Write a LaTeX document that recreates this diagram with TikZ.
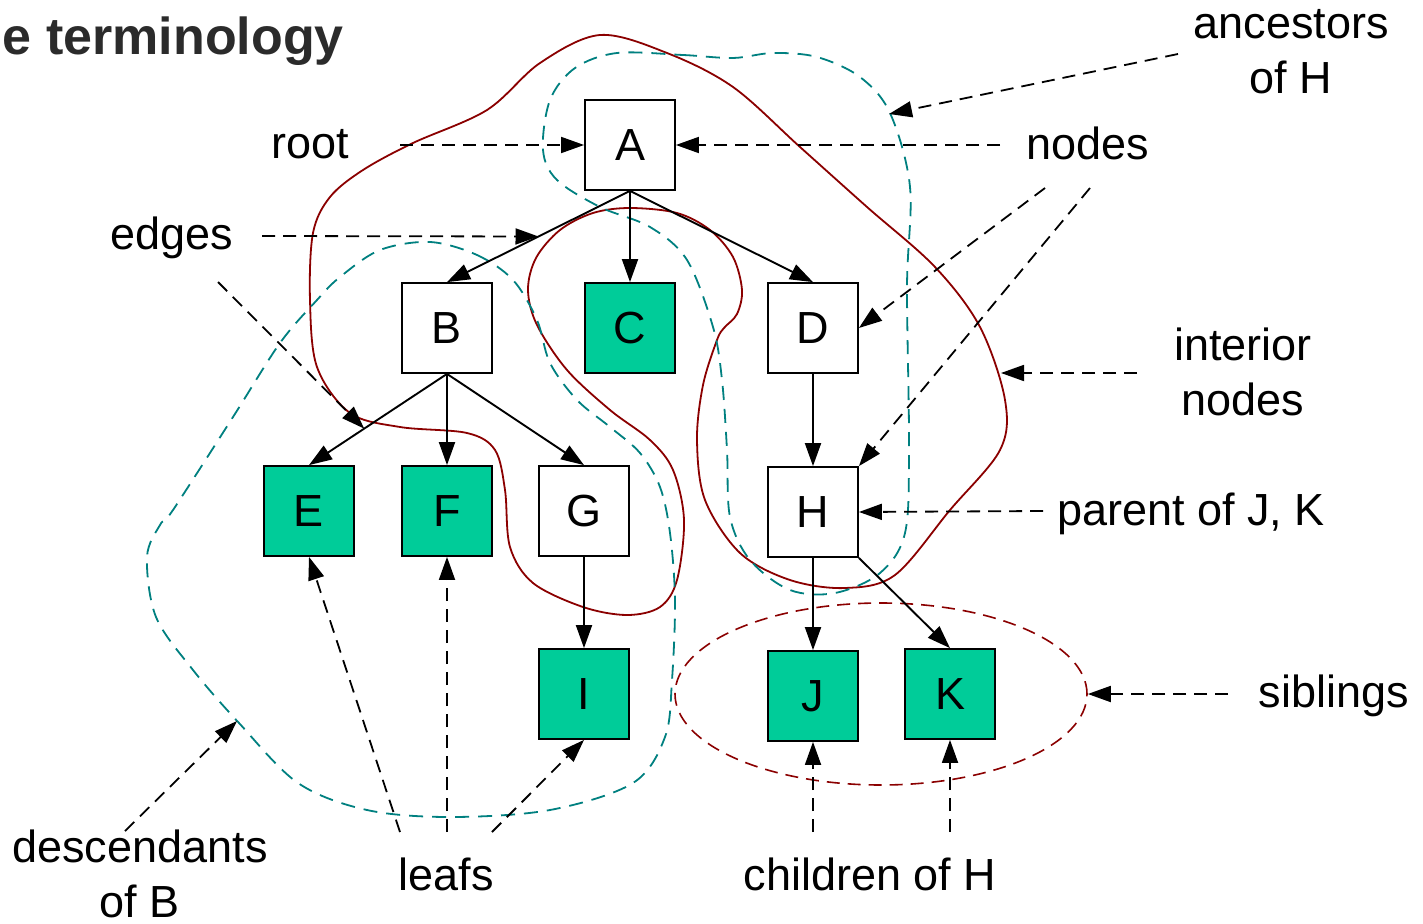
\documentclass[tikz,border=0pt]{standalone}
\usepackage{fontspec}
\setmainfont{Liberation Sans}
\usetikzlibrary{arrows.meta,calc,shapes.geometric}
\definecolor{leafgreen}{HTML}{00CC99}
\definecolor{dred}{HTML}{8B0000}
\definecolor{tealc}{HTML}{008080}
\definecolor{titlegray}{HTML}{2B2B2B}
\newcommand\labfont{\fontsize{45}{55}\selectfont}
\newcommand\ttlfont{\fontsize{52}{60}\selectfont\bfseries}
\tikzset{
  box/.style={draw=black, line width=1.8pt, fill=white, minimum size=90pt, inner sep=0pt, font=\labfont},
  leafbox/.style={box, fill=leafgreen},
  edge/.style={line width=1.9pt, -{Triangle[length=23pt,width=16pt]}},
  note/.style={line width=1.8pt, dash pattern=on 13pt off 8pt, -{Triangle[length=23pt,width=16pt]}},
  lbl/.style={font=\labfont, inner sep=0pt, anchor=base, align=center},
  redline/.style={draw=dred, line width=1.8pt},
  tealline/.style={draw=tealc, line width=1.8pt, dash pattern=on 14pt off 9pt},
}
\begin{document}
\begin{tikzpicture}[x=1pt,y=-1pt]
\fill[white] (0,0) rectangle (1423,923);
\useasboundingbox (0,0) rectangle (1423,923);

% title
\node[font=\ttlfont, text=titlegray, anchor=base east, inner sep=0pt] (title) at (344,55) {e terminology};

% enclosing curves
\draw[redline] plot[smooth cycle, tension=0.55] coordinates {
 (600,35) (667,53) (733,87) (800,147) (867,207) (935,267) (980,327) (1005,400)
 (1000,450) (950,510) (895,575) (845,588) (790,580) (740,553) (705,500) (697,440)
 (703,385) (717,340) (724,328) (737,314) (742,290) (733,257) (710,230) (677,213)
 (630,208) (593,213) (560,230) (536,258) (528,290) (537,325) (567,370) (610,410)
 (650,440) (673,470) (684,520) (677,580) (660,607) (627,615) (583,607) (533,583)
 (510,547) (505,490) (495,450) (467,433) (400,427) (350,413) (317,367) (310,300)
 (313,233) (330,197) (363,170) (413,143) (487,110) (540,63)};

\draw[tealline] plot[smooth cycle, tension=0.55] coordinates {
 (617,53) (683,55) (733,58) (773,53) (817,57) (860,77) (890,113) (910,187)
 (907,287) (909,447) (905,533) (880,573) (835,593) (790,590) (750,560) (730,517)
 (727,450) (722,380) (713,327) (687,260) (650,227) (600,207) (557,180) (543,150)
 (550,100) (575,68)};

\draw[tealline] plot[smooth cycle, tension=0.55] coordinates {
 (430,242) (477,255) (513,280) (537,320) (550,363) (577,400) (610,427) (640,453)
 (660,487) (670,533) (675,600) (672,680) (665,737) (633,783) (550,810) (450,817)
 (367,810) (298,783) (239,723) (193,670) (156,617) (147,557) (160,525) (173,510)
 (233,417) (280,343) (317,300) (340,277) (380,250)};

\node[draw=dred, line width=1.6pt, dash pattern=on 13pt off 8pt, ellipse,
      minimum width=412pt, minimum height=182pt, inner sep=0pt] (sib) at (881,694) {};

% tree nodes
\node[box] (A) at (630,145) {A};
\node[box] (B) at (447,328) {B};
\node[leafbox] (C) at (630,328) {C};
\node[box] (D) at (813,328) {D};
\node[leafbox] (E) at (309,511) {E};
\node[leafbox] (F) at (447,511) {F};
\node[box] (G) at (584,511) {G};
\node[box] (H) at (813,512) {H};
\node[leafbox] (I) at (584,694) {I};
\node[leafbox] (J) at (813,696) {J};
\node[leafbox] (K) at (950,694) {K};

% tree edges
\draw[edge] (A.south) -- (B.north);
\draw[edge] (A.south) -- (C.north);
\draw[edge] (A.south) -- (D.north);
\draw[edge] (B.south) -- (E.north);
\draw[edge] (B.south) -- (F.north);
\draw[edge] (B.south) -- (G.north);
\draw[edge] (D.south) -- (H.north);
\draw[edge] (G.south) -- (I.north);
\draw[edge] (H.south) -- (J.north);
\draw[edge] (H.south east) -- (K.north);

% labels (base = baseline of last line)
\node[lbl] (troot) at (310,158) {root};
\node[lbl] (tnodes) at (1088,159) {nodes};
\node[lbl] (tanc) at (1291,94) {ancestors\\of H};
\node[lbl] (tedges) at (172,249) {edges};
\node[lbl] (tint) at (1243,415) {interior\\nodes};
\node[lbl] (tpar) at (1191,525) {parent of J, K};
\node[lbl] (tsib) at (1334,707) {siblings};
\node[lbl] (tchild) at (870,890) {children of H};
\node[lbl] (tleaf) at (446,890) {leafs};
\node[lbl] (tdesc) at (140,917) {descendants\\of B};

% free ends of annotation arrows
\coordinate (rootS) at (400,145);
\coordinate (nodesS1) at (1000,145);
\coordinate (nodesS2) at (1045,188);
\coordinate (nodesS3) at (1090,188);
\coordinate (ancS) at (1178,54);
\coordinate (ancT) at (889,114);
\coordinate (edgesS1) at (262,236);
\coordinate (edgesS2) at (218,282);
\coordinate (intS) at (1137,373);
\coordinate (intT) at (1001,373);
\coordinate (parS) at (1043,511);
\coordinate (sibS) at (1228,694);
\coordinate (descS) at (125,831);
\coordinate (descT) at (237,721);
\coordinate (leafS1) at (400,832);
\coordinate (leafS2) at (447,832);
\coordinate (leafS3) at (492,832);
\coordinate (childS1) at (813,832);
\coordinate (childS2) at (950,832);

% annotation arrows
\draw[note] (rootS) -- (A.west);
\draw[note] (nodesS1) -- (A.east);
\draw[note] (nodesS2) -- (D.east);
\draw[note] (nodesS3) -- (H.north east);
\draw[note] (ancS) -- (ancT);
\draw[note] (edgesS1) -- ($(A.south)!0.5!(B.north)$);
\draw[note] (edgesS2) -- ($(B.south)!0.6!(E.north)$);
\draw[note] (intS) -- (intT);
\draw[note] (parS) -- (H.east);
\draw[note] (sibS) -- (sib.east);
\draw[note] (descS) -- (descT);
\draw[note] (leafS1) -- (E.south);
\draw[note] (leafS2) -- (F.south);
\draw[note] (leafS3) -- (I.south);
\draw[note] (childS1) -- (J.south);
\draw[note] (childS2) -- (K.south);
\end{tikzpicture}
\end{document}
